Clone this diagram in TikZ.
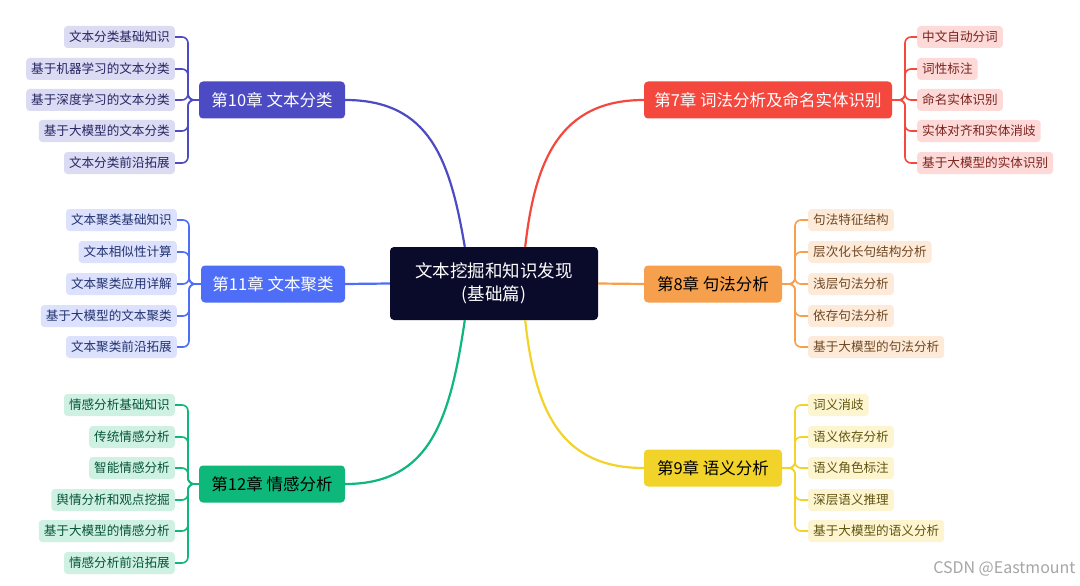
\documentclass[tikz,border=0pt]{standalone}
\usepackage{fontspec}
\setmainfont{Noto Sans CJK SC}
\begin{document}
\begin{tikzpicture}[x=1pt,y=-1pt,
 leafR/.style={draw=none,rounded corners=3.5pt,inner xsep=5pt,inner ysep=0pt,minimum height=22pt,font=\fontsize{12.6}{14}\selectfont,anchor=west},
 leafL/.style={leafR,anchor=east},
 ch/.style={rounded corners=4pt,minimum height=37pt,inner xsep=0pt,font=\fontsize{16.5}{19}\selectfont},
 ln/.style={line width=2.2pt},
 br/.style={line width=1.6pt,rounded corners=6pt}]
\definecolor{cred}{HTML}{F4473E}\definecolor{cora}{HTML}{F6A04D}\definecolor{cyel}{HTML}{F2D32A}
\definecolor{cpur}{HTML}{4C4BC4}\definecolor{cblu}{HTML}{4F6EF7}\definecolor{cgrn}{HTML}{0DB87A}
\definecolor{navy}{HTML}{0A0A2A}
\useasboundingbox[fill=white] (0,0) rectangle (1080,586);
% center
\node[fill=navy,rounded corners=4pt,minimum width=208pt,minimum height=73pt,text=white,align=center,font=\fontsize{17.5}{23}\selectfont] (c) at (494,283.5) {文本挖掘和知识发现\\(基础篇)};
% chapters
\node[ch,fill=cred,text=white,minimum width=248pt] (c7) at (768,100) {第7章 词法分析及命名实体识别};
\node[ch,fill=cora,text=black,minimum width=138pt] (c8) at (713,284) {第8章 句法分析};
\node[ch,fill=cyel,text=black,minimum width=138pt] (c9) at (713,468) {第9章 语义分析};
\node[ch,fill=cpur,text=white,minimum width=146pt] (c10) at (272,100) {第10章 文本分类};
\node[ch,fill=cblu,text=white,minimum width=144pt] (c11) at (273,284) {第11章 文本聚类};
\node[ch,fill=cgrn,text=black,minimum width=146pt] (c12) at (272,484) {第12章 情感分析};
% main connectors
\draw[ln,cred] (c.north east) ++(-73,0) coordinate (s7) (s7) .. controls (535,160) and (560,100) .. (c7.west);
\draw[ln,cora] (c.east) -- (c8.west);
\draw[ln,cyel] (c.south east) ++(-73,0) coordinate (s9) (s9) .. controls (535,410) and (560,468) .. (c9.west);
\draw[ln,cpur] (c.north west) ++(75,0) coordinate (s10) (s10) .. controls (450,160) and (430,100) .. (c10.east);
\draw[ln,cblu] (c.west) -- (c11.east);
\draw[ln,cgrn] (c.south west) ++(75,0) coordinate (s12) (s12) .. controls (450,420) and (430,484) .. (c12.east);
% leaves
\coordinate (b7) at (905,0);\coordinate (b8) at (795,0);\coordinate (b9) at (795,0);
\coordinate (b10) at (188,0);\coordinate (b11) at (189,0);\coordinate (b12) at (188,0);
\foreach \t/\y [count=\i] in {中文自动分词/37,词性标注/69,命名实体识别/100,实体对齐和实体消歧/131,基于大模型的实体识别/163}{
 \node[leafR,fill=cred!20,text=cred!50!black] (l7\i) at (917,\y) {\t};
 \draw[br,cred] (c7.east) -- (c7.east -| b7) |- (l7\i.west);}
\foreach \t/\y [count=\i] in {句法特征结构/220,层次化长句结构分析/252,浅层句法分析/284,依存句法分析/316,基于大模型的句法分析/347}{
 \node[leafR,fill=cora!22,text=cora!45!black] (l8\i) at (808,\y) {\t};
 \draw[br,cora] (c8.east) -- (c8.east -| b8) |- (l8\i.west);}
\foreach \t/\y [count=\i] in {词义消歧/405,语义依存分析/437,语义角色标注/468,深层语义推理/500,基于大模型的语义分析/531}{
 \node[leafR,fill=cyel!22,text=cyel!40!black] (l9\i) at (808,\y) {\t};
 \draw[br,cyel] (c9.east) -- (c9.east -| b9) |- (l9\i.west);}
\foreach \t/\y [count=\i] in {文本分类基础知识/37,基于机器学习的文本分类/69,基于深度学习的文本分类/100,基于大模型的文本分类/131,文本分类前沿拓展/163}{
 \node[leafL,fill=cpur!20,text=cpur!50!black] (l10\i) at (175,\y) {\t};
 \draw[br,cpur] (c10.west) -- (c10.west -| b10) |- (l10\i.east);}
\foreach \t/\y [count=\i] in {文本聚类基础知识/220,文本相似性计算/252,文本聚类应用详解/284,基于大模型的文本聚类/316,文本聚类前沿拓展/347}{
 \node[leafL,fill=cblu!20,text=cblu!45!black] (l11\i) at (177,\y) {\t};
 \draw[br,cblu] (c11.west) -- (c11.west -| b11) |- (l11\i.east);}
\foreach \t/\y [count=\i] in {情感分析基础知识/405,传统情感分析/437,智能情感分析/468,舆情分析和观点挖掘/500,基于大模型的情感分析/531,情感分析前沿拓展/563}{
 \node[leafL,fill=cgrn!20,text=cgrn!45!black] (l12\i) at (175,\y) {\t};
 \draw[br,cgrn] (c12.west) -- (c12.west -| b12) |- (l12\i.east);}
\node[anchor=east,text=black!35,font=\fontsize{16}{18}\selectfont] (wm) at (1079,569) {CSDN @Eastmount};
\end{tikzpicture}
\end{document}
